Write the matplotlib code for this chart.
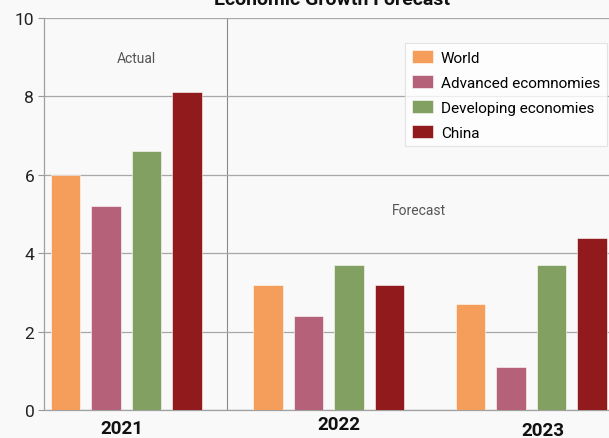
import matplotlib
matplotlib.use("Agg")
import matplotlib.pyplot as plt

# data
years = ["2021", "2022", "2023"]
series = ["World", "Advanced ecomnomies", "Developing economies", "China"]
world = [6.0, 3.2, 2.7]
advanced = [5.2, 2.4, 1.1]
developing = [6.6, 3.7, 3.7]
china = [8.1, 3.2, 4.4]
colors = ["#F59E5B", "#B5617A", "#83A063", "#911A1D"]

plt.rcParams['font.family'] = ['Roboto', 'DejaVu Sans']

bg = "#f9f9f9"
fig = plt.figure(figsize=(6.09, 4.39), dpi=100, facecolor=bg)
ax = fig.add_axes([44/609, 1 - 411/439, 1 - 44/609, (411 - 19)/439])
ax.set_facecolor(bg)

values = [world, advanced, developing, china]
for i, (name, vals) in enumerate(zip(series, values)):
    xs = [g * 5 + i for g in range(len(years))]
    ax.bar(xs, vals, width=0.73, color=colors[i], label=name,
           edgecolor="#ffffff", linewidth=0.4, zorder=3)

ax.set_xlim(-0.53, 13.42)
ax.set_ylim(0, 10)
ax.set_yticks([0, 2, 4, 6, 8, 10])
ax.set_xticks([])
ax.tick_params(axis="y", length=4, color="#999999", labelsize=12.5, labelcolor="#222222", pad=3)
ax.grid(axis="y", color="#a8a8a8", linewidth=0.9, zorder=0)
for s in ["top", "right"]:
    ax.spines[s].set_visible(False)
for s in ["left", "bottom"]:
    ax.spines[s].set_color("#a0a0a0")
    ax.spines[s].set_linewidth(0.9)

# separator between actual and forecast
ax.axvline(4, color="#8a8a8a", linewidth=0.8, zorder=1)
ax.text(1.74, 8.98, "Actual", ha="center", va="center", fontsize=10, color="#555555")
ax.text(8.73, 5.1, "Forecast", ha="center", va="center", fontsize=10, color="#555555")

# year labels (staggered like the original)
label_x = [1.40, 6.75, 11.79]
label_y = [-0.46, -0.36, -0.51]
for yr, lx, ly in zip(years, label_x, label_y):
    ax.text(lx, ly, yr, ha="center", va="center", fontsize=13.5,
            fontweight="bold", color="#111111", clip_on=False)

fig.text(332/609, 1 - 5/439, "Economic Growth Forecast", ha="center", va="baseline",
         fontsize=14, fontweight="bold", color="#111111")

leg = ax.legend(loc="upper right", bbox_to_anchor=(0.9965, 0.936), fontsize=11,
                frameon=True, fancybox=False, edgecolor="#dddddd", facecolor="white",
                handlelength=1.4, handleheight=0.9, labelspacing=0.68,
                borderpad=0.45, handletextpad=0.5, borderaxespad=0.0)
leg.get_frame().set_linewidth(0.8)

fig.savefig("out.png", dpi=100, facecolor=bg)
